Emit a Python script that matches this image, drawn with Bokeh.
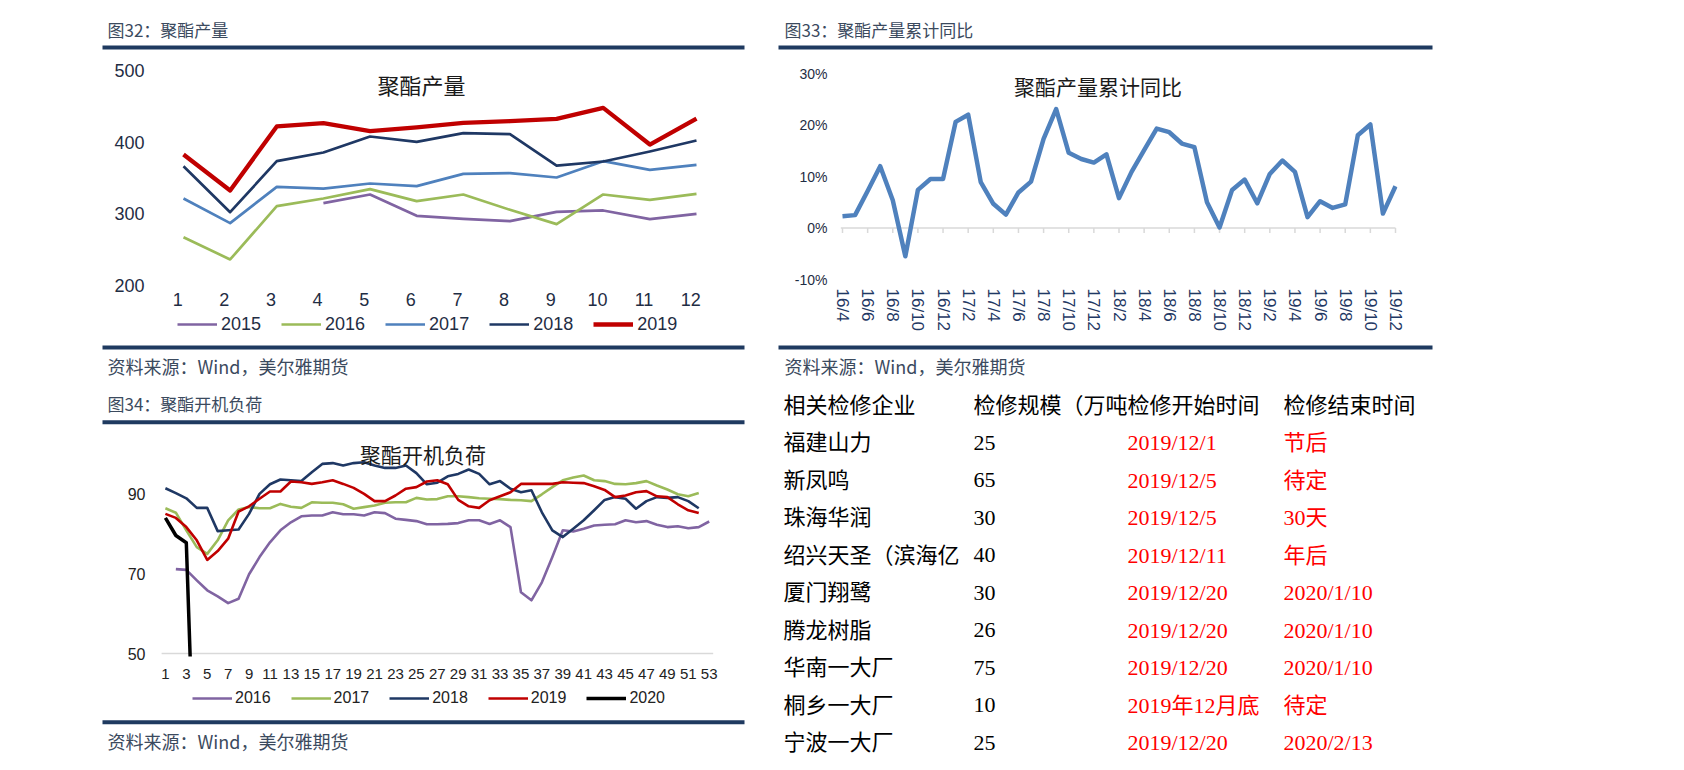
from bokeh.plotting import figure
from bokeh.models import (Range1d, FixedTicker, Legend, LegendItem, Label,
                          PrintfTickFormatter)
from bokeh.layouts import column, row
from bokeh.core.properties import value
from bokeh.embed import file_html
from bokeh.resources import INLINE

nan = float("nan")

# ---------------- data: 聚酯产量 (monthly, by year) ----------------
months = [1, 2, 3, 4, 5, 6, 7, 8, 9, 10, 11, 12]
prod_2015 = [nan, nan, nan, 314.9, 327.0, 297.2, 293.0, 289.8, 302.8, 304.7, 292.6, 300.0]
prod_2016 = [267.4, 236.3, 310.7, 321.4, 334.4, 317.7, 327.0, 305.6, 285.6, 327.0, 319.5, 327.9]
prod_2017 = [321.4, 287.0, 337.7, 335.3, 342.3, 338.6, 355.8, 356.7, 350.7, 373.5, 361.4, 368.4]
prod_2018 = [366.5, 302.3, 373.5, 385.6, 407.9, 400.5, 412.6, 411.2, 367.4, 373.0, 387.0, 402.3]
prod_2019 = [382.8, 332.6, 421.9, 426.5, 415.3, 420.5, 427.0, 429.3, 432.6, 447.9, 396.7, 433.0]
prod_ticks = [200, 300, 400, 500]

# ---------------- data: 聚酯产量累计同比 (%) ----------------
yoy_labels = ["16/4", "16/5", "16/6", "16/7", "16/8", "16/9", "16/10", "16/11", "16/12",
              "17/1", "17/2", "17/3", "17/4", "17/5", "17/6", "17/7", "17/8", "17/9", "17/10", "17/11", "17/12",
              "18/1", "18/2", "18/3", "18/4", "18/5", "18/6", "18/7", "18/8", "18/9", "18/10", "18/11", "18/12",
              "19/1", "19/2", "19/3", "19/4", "19/5", "19/6", "19/7", "19/8", "19/9", "19/10", "19/11", "19/12"]
yoy_values = [2.3, 2.5, 7.2, 12.0, 5.4, -5.5, 7.4, 9.5, 9.5, 20.6,
              22.0, 8.9, 4.7, 2.6, 6.9, 9.0, 17.3, 23.1, 14.6, 13.4,
              12.7, 14.3, 5.8, 10.9, 15.1, 19.3, 18.6, 16.4, 15.7, 5.0,
              0.1, 7.4, 9.4, 4.8, 10.5, 13.1, 10.9, 2.1, 5.2, 3.9,
              4.6, 18.0, 20.1, 2.8, 8.1]
yoy_ticks = [-10, 0, 10, 20, 30]

# ---------------- data: 聚酯开机负荷 (weekly, by year) ----------------
weeks = list(range(1, 54))
load_2016 = [nan, 71.1, 70.9, 68.3, 65.8, 64.3, 62.6, 63.7, 69.8, 74.1,
             77.8, 80.8, 82.8, 84.3, 84.5, 84.5, 85.3, 84.8, 84.8, 84.5,
             85.3, 85.1, 83.7, 83.4, 83.1, 82.3, 82.3, 82.4, 82.6, 83.3,
             83.3, 82.4, 83.3, 81.6, 65.3, 63.3, 67.8, 74.1, 80.8, 80.5,
             81.2, 82.0, 82.2, 82.3, 83.3, 82.8, 83.1, 82.2, 81.6, 81.8,
             81.3, 81.6, 83.0]
load_2017 = [86.3, 85.2, 80.8, 76.6, 74.9, 78.3, 83.3, 86.0, 86.6, 86.3,
             86.3, 87.4, 86.7, 86.4, 87.8, 87.7, 87.7, 87.3, 86.2, 86.6,
             87.0, 87.7, 87.8, 87.8, 88.9, 88.5, 88.6, 89.3, 89.3, 89.1,
             88.8, 88.7, 88.6, 88.4, 88.3, 88.1, 89.8, 91.6, 93.3, 94.0,
             94.5, 93.3, 93.1, 92.4, 92.3, 92.6, 93.1, 92.0, 91.0, 89.8,
             89.3, 90.1, nan]
load_2018 = [91.3, 90.1, 88.8, 86.4, 86.4, 80.6, 80.8, 81.0, 84.9, 89.9,
             92.3, 93.5, 93.3, 93.1, 95.3, 97.4, 97.6, 97.0, 97.6, 97.8,
             97.0, 96.4, 96.4, 97.0, 95.1, 92.3, 92.7, 94.3, 94.9, 96.0,
             94.9, 92.3, 93.1, 91.2, 90.3, 90.8, 85.3, 80.8, 79.1, 81.2,
             83.3, 85.8, 88.4, 89.1, 88.7, 86.2, 88.1, 89.1, 88.9, 89.1,
             88.1, 86.3, nan]
load_2019 = [84.9, 83.9, 81.6, 78.3, 73.4, 75.6, 78.7, 85.5, 86.8, 88.7,
             90.5, 90.5, 93.0, 92.8, 92.4, 92.8, 93.3, 92.4, 91.4, 89.9,
             88.1, 88.1, 89.5, 91.2, 91.6, 93.0, 93.3, 92.3, 88.4, 86.8,
             86.4, 88.3, 89.3, 90.3, 92.4, 92.4, 92.4, 92.4, 92.8, 92.7,
             92.6, 91.8, 90.9, 89.1, 89.5, 90.3, 90.6, 89.3, 89.1, 87.3,
             85.8, 85.1, nan]
load_2020 = [83.9, 79.5, 77.7, 0.0]
load_ticks_y = [50, 70, 90]
load_ticks_x = list(range(1, 54, 2))

# ---------------- data: 检修表 ----------------
tbl_header = ["相关检修企业", "检修规模（万吨", "检修开始时间", "检修结束时间"]
tbl_company = ["福建山力", "新凤鸣", "珠海华润", "绍兴天圣（滨海亿", "厦门翔鹭", "腾龙树脂",
               "华南一大厂", "桐乡一大厂", "宁波一大厂"]
tbl_size = ["25", "65", "30", "40", "30", "26", "75", "10", "25"]
tbl_start = ["2019/12/1", "2019/12/5", "2019/12/5", "2019/12/11", "2019/12/20", "2019/12/20",
             "2019/12/20", "2019年12月底", "2019/12/20"]
tbl_end = ["节后", "待定", "30天", "年后", "2020/1/10", "2020/1/10", "2020/1/10", "待定", "2020/2/13"]

# ---------------- styles / layout constants ----------------
CJK = "Noto Sans CJK SC"
SANS = "Liberation Sans"
SERIF = "'Liberation Serif', 'Noto Sans CJK SC', serif"
RULE = "#1F3A60"
HDR = "#3B4A5E"
TICK = "#1F2D44"
C_PURPLE = "#8064A2"
C_GREEN = "#9BBB59"
C_BLUE = "#4F81BD"
C_NAVY = "#1F3864"
C_RED = "#C00000"

LEFT_W = 760
RIGHT_X0 = 760
RIGHT_W = 700


def lin(px, v0, px0, v1, px1):
    return v0 + (px - px0) * (v1 - v0) / (px1 - px0)


def span_range(lo_px, hi_px, v0, px0, v1, px1):
    return Range1d(lin(lo_px, v0, px0, v1, px1), lin(hi_px, v0, px0, v1, px1))


def noalign(p):
    if "frame_align" in p.properties():
        p.frame_align = False
    return p


def decor(col_x0, width, y0, y1):
    p = figure(width=width, height=y1 - y0, x_range=Range1d(col_x0, col_x0 + width),
               y_range=Range1d(y1, y0), x_axis_location=None, y_axis_location=None,
               toolbar_location=None, output_backend="svg", outline_line_color=None,
               min_border=0)
    p.grid.visible = False
    return noalign(p)


def txt(p, x, y, s, size, color, font=CJK, align="left"):
    p.text(x=[x], y=[y], text=[s], text_font=value(font), text_font_size=size,
           text_color=color, text_baseline="middle", text_align=align)


def rule(p, x0, x1, y):
    p.segment(x0=[x0], y0=[y], x1=[x1], y1=[y], line_color=RULE, line_width=4)


def base_axes(p, size, color):
    p.grid.visible = False
    for ax in p.axis:
        ax.axis_line_color = None
        ax.major_tick_line_color = None
        ax.minor_tick_line_color = None
        ax.major_tick_out = 0
        ax.minor_tick_out = 0
        ax.major_label_text_font = SANS
        ax.major_label_text_font_size = size
        ax.major_label_text_color = color


def decor_legend(p, series, left_px, top_px, bottom_px, size, standoff, spacing, color):
    # legend keys (line samples) for a chart, drawn in the strip below it
    items = []
    for lbl, col, lw in series:
        r = p.line(x=[nan], y=[nan], line_color=col, line_width=lw)
        items.append(LegendItem(label=lbl, renderers=[r]))
    leg = Legend(items=items, orientation="horizontal",
                 location=(left_px - p.x_range.start, bottom_px - top_px - 22),
                 glyph_width=40, glyph_height=22, label_height=22, label_standoff=standoff,
                 spacing=spacing, padding=0, margin=0, border_line_color=None,
                 background_fill_alpha=0, label_text_font=SANS, label_text_font_size=size,
                 label_text_color=color)
    p.add_layout(leg)


# ================= left column =================
hdr1 = decor(0, LEFT_W, 0, 56)
txt(hdr1, 107, 29, "图32：聚酯产量", "17px", HDR)
rule(hdr1, 102, 744, 47)

# --- 聚酯产量 ---
P1 = (1, 183, 12, 696)  # category value -> page px anchors
p1 = figure(width=LEFT_W, height=257, x_range=span_range(160, 720, *P1),
            y_range=Range1d(200, 500), toolbar_location=None, output_backend="svg",
            outline_line_color=None, min_border_left=160, min_border_right=40,
            min_border_top=14, min_border_bottom=28)
noalign(p1)
base_axes(p1, "18px", TICK)
p1.xaxis.ticker = FixedTicker(ticks=[m - 0.125 for m in months])
p1.xaxis.major_label_overrides = {m - 0.125: str(m) for m in months}
p1.xaxis.major_label_standoff = 7
p1.yaxis.ticker = FixedTicker(ticks=prod_ticks)
p1.yaxis.major_label_standoff = 16
prod_series = [("2015", prod_2015, C_PURPLE, 2.7), ("2016", prod_2016, C_GREEN, 2.7),
               ("2017", prod_2017, C_BLUE, 2.7), ("2018", prod_2018, C_NAVY, 2.7),
               ("2019", prod_2019, C_RED, 4.3)]
for lbl, vals, col, lw in prod_series:
    p1.line(months, vals, line_color=col, line_width=lw, line_join="round")
p1.add_layout(Label(x=lin(421, *P1), y=480.5, text="聚酯产量", text_font=CJK,
                    text_font_size="22px", text_align="center", text_baseline="middle",
                    text_color="#1A1A1A"))

sep1 = decor(0, LEFT_W, 313, 430)
decor_legend(sep1, [(l, c, w) for l, _, c, w in prod_series], 177, 313, 430, "18px", 4, 20, TICK)
rule(sep1, 102, 744, 347)
txt(sep1, 107, 365, "资料来源：Wind，美尔雅期货", "18px", HDR)
txt(sep1, 107, 403, "图34：聚酯开机负荷", "17px", HDR)
rule(sep1, 102, 744, 421.7)

# --- 聚酯开机负荷 ---
P3 = (1, 164.9, 53, 708.7)
p3 = figure(width=LEFT_W, height=257, x_range=span_range(161, 713, *P3),
            y_range=Range1d(49.25, 103.75), toolbar_location=None, output_backend="svg",
            outline_line_color=None, min_border_left=161, min_border_right=47,
            min_border_top=8, min_border_bottom=31)
noalign(p3)
base_axes(p3, "15px", "#222222")
p3.xaxis.ticker = FixedTicker(ticks=load_ticks_x)
p3.xaxis.major_label_standoff = 12
p3.yaxis.ticker = FixedTicker(ticks=load_ticks_y)
p3.yaxis.major_label_text_font_size = "16px"
p3.yaxis.major_label_standoff = 16
p3.segment(x0=[weeks[0] - 0.4], y0=[load_ticks_y[0]], x1=[weeks[-1] + 0.4], y1=[load_ticks_y[0]],
           line_color="#D9D9D9", line_width=1.5)
load_series = [("2016", load_2016, C_PURPLE, 2.6), ("2017", load_2017, C_GREEN, 2.6),
               ("2018", load_2018, C_NAVY, 2.6), ("2019", load_2019, C_RED, 2.6),
               ("2020", load_2020, "#000000", 3.5)]
for lbl, vals, col, lw in load_series:
    p3.line(weeks[:len(vals)], vals, line_color=col, line_width=lw, line_join="round")
p3.add_layout(Label(x=lin(422.5, *P3), y=100.0, text="聚酯开机负荷", text_font=CJK,
                    text_font_size="21px", text_align="center", text_baseline="middle",
                    text_color="#1A1A1A"))

ftr3 = decor(0, LEFT_W, 687, 770)
decor_legend(ftr3, [(l, c, w) for l, _, c, w in load_series], 192, 687, 770, "16px", 3, 20, "#222222")
rule(ftr3, 102, 744, 721.7)
txt(ftr3, 107, 740.7, "资料来源：Wind，美尔雅期货", "18px", HDR)

left = column(hdr1, p1, sep1, p3, ftr3)

# ================= right column =================
hdr2 = decor(RIGHT_X0, RIGHT_W, 0, 56)
txt(hdr2, 784, 29, "图33：聚酯产量累计同比", "17px", HDR)
rule(hdr2, 778, 1432, 47)

idx = list(range(len(yoy_values)))
P2 = (0, 842, len(yoy_values) - 1, 1395)
p2 = figure(width=RIGHT_W, height=282, x_range=span_range(840, 1397, *P2),
            y_range=Range1d(yoy_ticks[0], yoy_ticks[-1]), toolbar_location=None,
            output_backend="svg", outline_line_color=None,
            min_border_left=80, min_border_right=63, min_border_top=17, min_border_bottom=59)
noalign(p2)
base_axes(p2, "14px", TICK)
even_ticks = idx[::2]
p2.xaxis.ticker = FixedTicker(ticks=even_ticks)
p2.xaxis.major_label_overrides = {i: yoy_labels[i] for i in even_ticks}
p2.xaxis.major_label_orientation = "vertical"
p2.xaxis.major_label_standoff = 9
p2.xaxis.major_label_text_font_size = "17px"
p2.xaxis.major_label_text_color = C_NAVY
p2.yaxis.ticker = FixedTicker(ticks=yoy_ticks)
p2.yaxis.formatter = PrintfTickFormatter(format="%d%%")
p2.yaxis.major_label_standoff = 13
# zero baseline with outward tick marks at the labelled months
px_per_unit = 206 / (yoy_ticks[-1] - yoy_ticks[0])
p2.segment(x0=[idx[0] - 0.15], y0=[0], x1=[idx[-1]], y1=[0], line_color="#D9D9D9", line_width=1.5)
p2.segment(x0=even_ticks, y0=[0] * len(even_ticks), x1=even_ticks,
           y1=[-5 / px_per_unit] * len(even_ticks), line_color="#D9D9D9", line_width=1.5)
p2.line(idx, yoy_values, line_color=C_BLUE, line_width=4.5, line_join="round")
p2.add_layout(Label(x=lin(1097.6, *P2), y=27.6, text="聚酯产量累计同比", text_font=CJK,
                    text_font_size="21px", text_align="center", text_baseline="middle",
                    text_color="#1A1A1A"))

tbl = decor(RIGHT_X0, RIGHT_W, 338, 770)
rule(tbl, 778, 1432, 347)
txt(tbl, 784, 365, "资料来源：Wind，美尔雅期货", "18px", HDR)
col_x = [783, 973, 1127, 1283]
row0 = 405
row_h = 37.45
for j, h in enumerate(tbl_header):
    txt(tbl, col_x[j], row0, h, "22px", "#000000", SERIF)
for k in range(len(tbl_company)):
    y = row0 + (k + 1) * row_h
    txt(tbl, col_x[0], y, tbl_company[k], "22px", "#000000", SERIF)
    txt(tbl, col_x[1], y, tbl_size[k], "22px", "#000000", SERIF)
    txt(tbl, col_x[2], y, tbl_start[k], "22px", "#FF0000", SERIF)
    txt(tbl, col_x[3], y, tbl_end[k], "22px", "#FF0000", SERIF)

right = column(hdr2, p2, tbl)

page = row(left, right)

with open("out.html", "w") as f:
    f.write(file_html(page, INLINE))
